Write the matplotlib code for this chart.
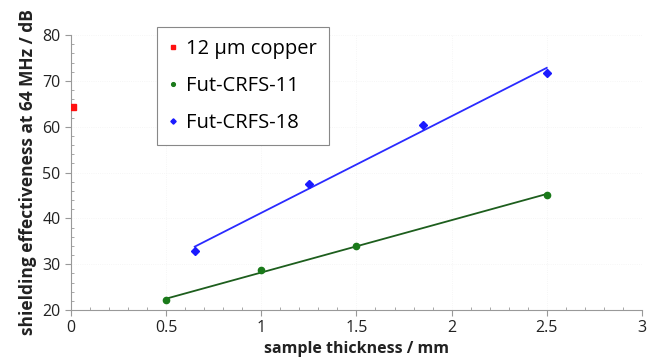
import numpy as np
import matplotlib
matplotlib.use("Agg")
import matplotlib.pyplot as plt
from matplotlib.ticker import MultipleLocator

# Data
copper_x = [0.01]
copper_y = [64.4]

crfs11_x = [0.5, 1.0, 1.5, 2.5]
crfs11_y = [22.1, 28.7, 33.9, 45.2]

crfs18_x = [0.65, 1.25, 1.85, 2.5]
crfs18_y = [32.8, 47.4, 60.3, 71.8]

plt.rcParams['font.family'] = ['Open Sans', 'DejaVu Sans']

fig = plt.figure(figsize=(6.48, 3.58), dpi=100)
ax = fig.add_axes([0.1096, 0.134, 0.881, 0.768])

# Linear trend lines
for xs, ys, c in [(crfs11_x, crfs11_y, '#1d5e1d'), (crfs18_x, crfs18_y, '#2a2aff')]:
    k, d = np.polyfit(xs, ys, 1)
    xl = np.array([min(xs), max(xs)])
    ax.plot(xl, k * xl + d, color=c, lw=1.3, zorder=2)

ax.plot(copper_x, copper_y, 's', color='#ff1010', ms=4, ls='none', label='12 µm copper', zorder=3)
ax.plot(crfs11_x, crfs11_y, 'o', color='#1a7a1a', ms=4.5, ls='none', label='Fut-CRFS-11', zorder=3)
ax.plot(crfs18_x, crfs18_y, 'D', color='#1a1aff', ms=4.5, ls='none', label='Fut-CRFS-18', zorder=3)

ax.set_xlim(0, 3)
ax.set_ylim(20, 80)
ax.xaxis.set_minor_locator(MultipleLocator(0.1))
ax.yaxis.set_major_locator(MultipleLocator(10))
ax.yaxis.set_minor_locator(MultipleLocator(2))
ax.set_xticks([0, 0.5, 1, 1.5, 2, 2.5, 3])
ax.set_xticklabels(['0', '0.5', '1', '1.5', '2', '2.5', '3'])

for s in ['top', 'right']:
    ax.spines[s].set_visible(False)
for s in ['left', 'bottom']:
    ax.spines[s].set_color('#999999')
    ax.spines[s].set_linewidth(0.8)
ax.tick_params(which='major', direction='out', length=4, color='#999999', labelsize=11.5, labelcolor='#222222')
ax.tick_params(which='minor', direction='in', length=2.5, color='#999999')

ax.grid(True, which='major', color='#f3f3f3', lw=0.6, ls=':')

ax.set_xlabel('sample thickness / mm', fontsize=11.5, fontweight='bold', color='#222222', labelpad=3)
ax.set_ylabel('shielding effectiveness at 64 MHz / dB', fontsize=12.5, fontweight='bold', color='#222222', labelpad=4)

leg = ax.legend(loc='upper left', bbox_to_anchor=(157 / 648, 1 - 27 / 358), bbox_transform=fig.transFigure,
                borderaxespad=0, fontsize=14.5, fancybox=False, edgecolor='#888888', framealpha=1,
                handlelength=0.4, handletextpad=0.45, markerscale=0.6, labelspacing=0.85,
                borderpad=0.6)
leg.get_frame().set_linewidth(0.8)

fig.savefig('out.png', dpi=100)
